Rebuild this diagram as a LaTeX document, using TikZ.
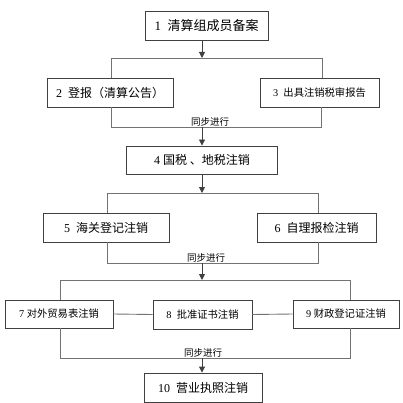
\documentclass[tikz,border=0pt]{standalone}
\usepackage{fontspec}
\setmainfont{Liberation Serif}
\newfontfamily\cjk{Noto Sans CJK SC}
\usetikzlibrary{arrows.meta}
\begin{document}
\begin{tikzpicture}[x=1pt,y=-1pt,
  box/.style={draw=black!75,line width=0.9pt,fill=white,inner sep=0pt,font=\fontsize{12}{14}\selectfont},
  small/.style={font=\fontsize{10.3}{12}\selectfont},
  conn/.style={draw=black!55,line width=0.9pt},
  arr/.style={conn,-{Triangle[width=6pt,length=6pt]},draw=black!75,fill=black!75},
  sync/.style={font=\cjk\fontsize{9.5}{11}\selectfont,inner sep=0pt,anchor=south}]
\useasboundingbox (0,0) rectangle (403,403);
\coordinate (ax) at (202,0);
% boxes
\node[box,minimum width=123pt,minimum height=29pt,font=\fontsize{13}{15}\selectfont] (b1) at (206.5,25.5) {1\ \ {\cjk 清算组成员备案}};
\node[box,minimum width=126pt,minimum height=29pt] (b2) at (110,92.5) {2\ \ {\cjk 登报（清算公告）}};
\node[box,small,minimum width=119pt,minimum height=29pt] (b3) at (319.5,92.5) {3\ \ {\cjk 出具注销税审报告}};
\node[box,minimum width=151pt,minimum height=28pt] (b4) at (202,160) {4 {\cjk 国税 、地税注销}};
\node[box,minimum width=126pt,minimum height=29pt] (b5) at (106,227.5) {5\ \ {\cjk 海关登记注销}};
\node[box,minimum width=119pt,minimum height=29pt] (b6) at (316.5,227.5) {6\ \ {\cjk 自理报检注销}};
\node[box,small,minimum width=108pt,minimum height=28pt] (b7) at (59,314) {7\ {\cjk 对外贸易表注销}};
\node[box,small,minimum width=99pt,minimum height=29pt] (b8) at (202.5,314.5) {8\ \ {\cjk 批准证书注销}};
\node[box,small,minimum width=106pt,minimum height=28pt] (b9) at (346,314) {9\ {\cjk 财政登记证注销}};
\node[box,minimum width=118pt,minimum height=29pt] (b10) at (203,387.5) {10\ \ {\cjk 营业执照注销}};
% split / merge coordinates
\coordinate (s1l) at (111,58);  \coordinate (s1r) at (322,58);
\coordinate (m1l) at (111,127); \coordinate (m1r) at (321,127);
\coordinate (s2l) at (107,193); \coordinate (s2r) at (318,193);
\coordinate (m2l) at (107,263); \coordinate (m2r) at (318,263);
\coordinate (s3l) at (60,280);  \coordinate (s3r) at (350,280);
\coordinate (m3l) at (60,358);  \coordinate (m3r) at (350,358);
\coordinate (end) at (203,410);
% stage 1
\draw[conn] (b2.north -| s1l) -- (s1l) -- (s1r) -- (b3.north -| s1r);
\draw[conn] (b2.south -| m1l) -- (m1l) -- (m1r) -- (b3.south -| m1r);
\node[sync] (t1) at (210,126) {同步进行};
\draw[arr] (b1.south -| ax) -- (s1l -| ax);
\draw[arr] (m1l -| ax) -- (b4.north -| ax);
% stage 2
\draw[conn] (b5.north -| s2l) -- (s2l) -- (s2r) -- (b6.north -| s2r);
\draw[conn] (b5.south -| m2l) -- (m2l) -- (m2r) -- (b6.south -| m2r);
\node[sync] (t2) at (206,262) {同步进行};
\draw[arr] (b4.south -| ax) -- (s2l -| ax);
\draw[arr] (m2l -| ax) -- (s3l -| ax);
% stage 3
\draw[conn] (b7.north -| s3l) -- (s3l) -- (s3r) -- (b9.north -| s3r);
\draw[conn] (b7.east) -- (b8.west);
\draw[conn] (b8.east) -- (b9.west);
\draw[conn] (b7.south -| m3l) -- (m3l) -- (m3r) -- (b9.south -| m3r);
\node[sync] (t3) at (203,357) {同步进行};
\draw[arr] (m3l -| ax) -- (b10.north -| ax);
\draw[conn,draw=black!75] (b10.south) -- (end);
\end{tikzpicture}
\end{document}
